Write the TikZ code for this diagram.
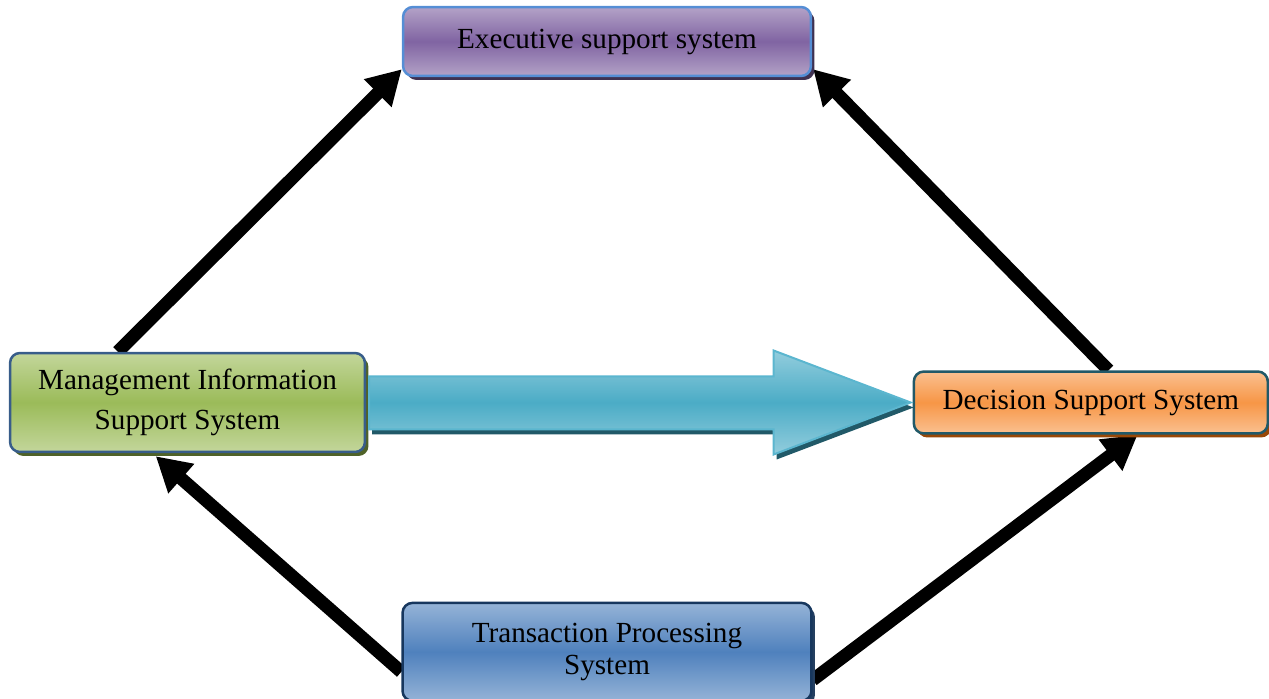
\documentclass[tikz,border=0pt]{standalone}
\usepackage{fontspec}
\setmainfont{Liberation Serif}
\usetikzlibrary{arrows.meta,calc,shadows,backgrounds}
\definecolor{esstop}{HTML}{B3A2C7}
\definecolor{essmid}{HTML}{8064A2}
\definecolor{essline}{HTML}{558ED5}
\definecolor{essshadow}{HTML}{3F3151}
\definecolor{mistop}{HTML}{C3D69B}
\definecolor{mismid}{HTML}{9BBB59}
\definecolor{misline}{HTML}{385D8A}
\definecolor{misshadow}{HTML}{4F6228}
\definecolor{dsstop}{HTML}{FAC090}
\definecolor{dssmid}{HTML}{F79646}
\definecolor{dssline}{HTML}{215968}
\definecolor{dssshadow}{HTML}{984807}
\definecolor{tpstop}{HTML}{95B3D7}
\definecolor{tpsmid}{HTML}{4F81BD}
\definecolor{tpsline}{HTML}{17375E}
\definecolor{tpsshadow}{HTML}{243F60}
\definecolor{arrtop}{HTML}{93CDDD}
\definecolor{arrmid}{HTML}{4BACC6}
\definecolor{arrline}{HTML}{5BB6CF}
\definecolor{arrshadow}{HTML}{215968}
\begin{document}
\begin{tikzpicture}[x=0.02cm,y=-0.02cm,
    every node/.style={rounded corners=0.2cm,draw,line width=0.05cm,inner sep=0pt,align=center,
        font=\fontsize{16.6}{22.8}\selectfont},
    sysbox/.style args={#1/#2/#3/#4}{top color=#1,bottom color=#1,middle color=#2,draw=#3,
        drop shadow={shadow xshift=0.07cm,shadow yshift=-0.08cm,fill=#4,opacity=1}},
    link/.style={line width=0.26cm,-{Triangle[length=0.68cm,width=0.74cm]}}]
    \useasboundingbox (0,0) rectangle (1269,699);
    \node[sysbox=esstop/essmid/essline/essshadow,minimum width=8.16cm,minimum height=1.38cm] (ess) at (607,41.5) {Executive support system};
    \node[sysbox=tpstop/tpsmid/tpsline/tpsshadow,minimum width=8.18cm,minimum height=1.96cm,below of=ess,node distance=12.21cm,
        font=\fontsize{16.6}{18.2}\selectfont] (tps) {Transaction Processing\\System};
    \node[sysbox=mistop/mismid/misline/misshadow,minimum width=7.1cm,minimum height=1.98cm] (mis) at (187.5,402.5) {Management Information\\Support System};
    \node[sysbox=dsstop/dssmid/dssline/dssshadow,minimum width=7.08cm,minimum height=1.24cm,right of=mis,node distance=18.07cm] (dss) {Decision Support System};
    % big arrow MIS -> DSS
    \path[top color=arrtop,bottom color=arrtop,middle color=arrmid,draw=arrline,line width=0.04cm,
        drop shadow={shadow xshift=0.06cm,shadow yshift=-0.1cm,fill=arrshadow,opacity=1}]
        ($(mis.east)+(3,-26)$) -- ($(dss.west)+(-139,-26)$) -- ($(dss.west)+(-139,-52)$) -- ($(dss.west)+(-2,0)$)
        -- ($(dss.west)+(-139,52)$) -- ($(dss.west)+(-139,27)$) -- ($(mis.east)+(3,27)$) -- cycle;
    \begin{scope}[on background layer]
        \draw[link] ($(mis.north west)+(109,0)$) -- ($(ess.south west)+(0,-8)$);
        \draw[link] ($(dss.north west)+(196,0)$) -- ($(ess.south east)+(1,-8)$);
        \draw[link] ($(tps.west)+(0,20)$) -- ($(mis.south west)+(147,3)$);
        \draw[link] ($(tps.east)+(0,28)$) -- ($(dss.south west)+(225,0)$);
    \end{scope}
\end{tikzpicture}
\end{document}
